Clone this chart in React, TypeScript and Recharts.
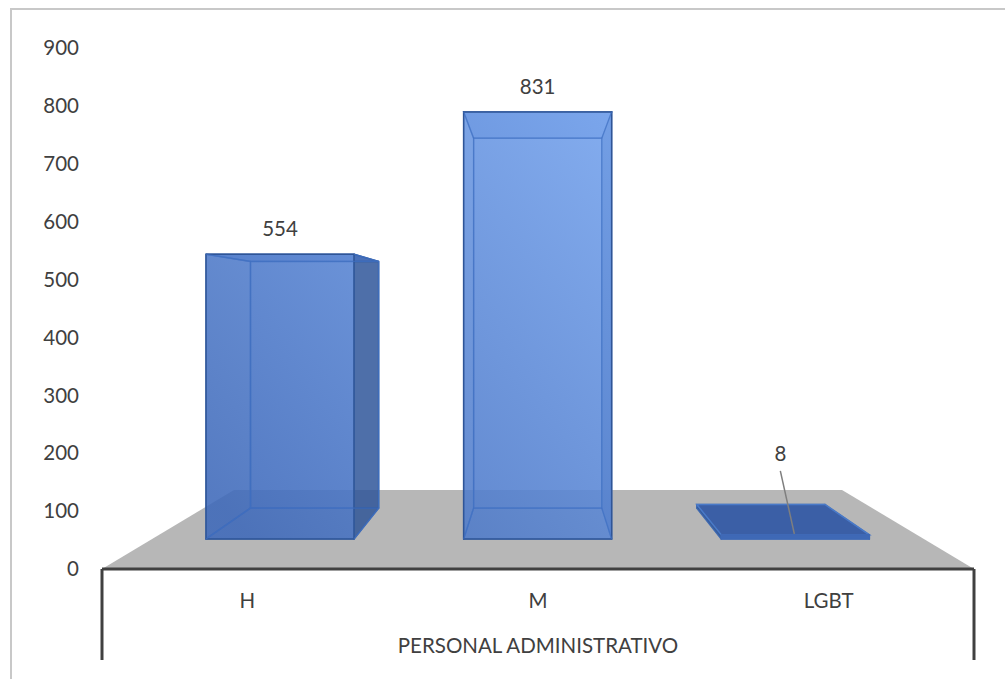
import { BarChart, Bar, XAxis, YAxis, LabelList } from 'recharts'

const CATEGORIES = ['H', 'M', 'LGBT']
const VALUES = [554, 831, 8]
const GROUP = 'PERSONAL ADMINISTRATIVO'
const Y_TICKS = [0, 100, 200, 300, 400, 500, 600, 700, 800, 900]

const chartData = CATEGORIES.map((cat, i) => ({ cat, value: VALUES[i], group: GROUP }))

const W = 1005
const H = 679
const PLOT = { left: 102, right: 974, top: 48, bottom: 569 }
// perspective of the 3D floor and boxes
const VP = { x: 538, y: 308 }
const DEPTH = 0.134
const FLOOR_BACK = 490
const TEXT = '#404040'
const AXIS = '#404040'
const FONT = 'Lato, sans-serif'

const toBack = (x: number, y: number) => [x + (VP.x - x) * DEPTH, y + (VP.y - y) * DEPTH]
const pts = (list: number[][]) => list.map(p => p.join(',')).join(' ')

function Floor() {
  const k = (PLOT.bottom - FLOOR_BACK) / (PLOT.bottom - VP.y)
  const backL = PLOT.left + (VP.x - PLOT.left) * k
  const backR = PLOT.right + (VP.x - PLOT.right) * k
  return (
    <polygon
      points={pts([[PLOT.left, PLOT.bottom], [PLOT.right, PLOT.bottom], [backR, FLOOR_BACK], [backL, FLOOR_BACK]])}
      fill="#b7b7b7"
    />
  )
}

function BoxBar(props: any) {
  const { x, y, width, height } = props
  const x2 = x + width
  const y2 = y + height
  const fl = [x, y]; const fr = [x2, y]; const br = [x2, y2]; const bl = [x, y2]
  const bfl = toBack(x, y); const bfr = toBack(x2, y); const bbr = toBack(x2, y2); const bbl = toBack(x, y2)
  const edge = { stroke: '#3a66b0', strokeWidth: 1.5, strokeLinejoin: 'round' as const }
  // a nearly empty box reads as a flat dark plate
  const flat = height < 10
  return (
    <g>
      <polygon points={pts([bfl, bfr, bbr, bbl])} fill="#4472c4" fillOpacity={0.3} {...edge} strokeOpacity={0.7} />
      <polygon points={pts([bl, br, bbr, bbl])} fill="#2f5597" fillOpacity={0.2} {...edge} strokeOpacity={0.7} />
      <polygon points={pts([fl, bfl, bbl, bl])} fill="#2f5597" fillOpacity={flat ? 0.9 : 0.2} {...edge} strokeOpacity={0.7} />
      <polygon points={pts([fr, bfr, bbr, br])} fill="#2f5597" fillOpacity={0.8} {...edge} strokeOpacity={0.7} />
      <polygon
        points={pts([fl, fr, bfr, bfl])}
        fill={flat ? '#3b5fa6' : '#3f6cc0'}
        fillOpacity={flat ? 1 : 0.6}
        stroke={flat ? '#4a7ac8' : '#3a66b0'}
        strokeWidth={1.5}
      />
      <polygon
        points={pts([fl, fr, br, bl])}
        fill={flat ? '#3f69b6' : 'url(#barFace)'}
        fillOpacity={flat ? 1 : 0.85}
        stroke={flat ? '#3f69b6' : '#2f5597'}
        strokeWidth={1.5}
      />
      {!flat && (
        <g fill="none" stroke="#3f6fc0" strokeWidth={1.2} strokeOpacity={0.7}>
          <polygon points={pts([bfl, bfr, bbr, bbl])} />
          <polyline points={pts([bl, bbl])} />
          <polyline points={pts([br, bbr])} />
          <polyline points={pts([fl, bfl])} />
          <polyline points={pts([fr, bfr])} />
        </g>
      )}
    </g>
  )
}

function ValueLabel(props: any) {
  const { x, y, width, value } = props
  const cx = x + width / 2
  // the tiny bar gets its label pulled up with a leader line
  if (value < 50) {
    return (
      <g>
        <line x1={cx - 15} y1={y - 64} x2={cx - 1} y2={y - 1} stroke="#7f7f7f" strokeWidth={1.5} />
        <text x={cx - 15} y={y - 74} textAnchor="middle" fontFamily={FONT} fontSize={20.5} fill={TEXT}>{value}</text>
      </g>
    )
  }
  return <text x={cx} y={y - 18} textAnchor="middle" fontFamily={FONT} fontSize={20.5} fill={TEXT}>{value}</text>
}

function GroupTick(props: any) {
  const { x, y, payload } = props
  return (
    <g>
      <line x1={PLOT.left} y1={PLOT.bottom} x2={PLOT.left} y2={660} stroke={AXIS} strokeWidth={3} />
      <line x1={PLOT.right} y1={PLOT.bottom} x2={PLOT.right} y2={660} stroke={AXIS} strokeWidth={3} />
      <text x={x} y={y + 26} textAnchor="middle" fontFamily={FONT} fontSize={20.5} fill={TEXT}>{payload.value}</text>
    </g>
  )
}

export default function App() {
  return (
    <div style={{ position: 'absolute', left: 0, top: 0, width: W, height: H, background: '#fff', overflow: 'hidden' }}>
      <div style={{ position: 'absolute', left: 10, top: 8, width: 995, height: 671, borderTop: '2px solid #c8c8c8', borderLeft: '2px solid #c8c8c8', boxSizing: 'border-box' }} />
      <BarChart
        width={W}
        height={H}
        data={chartData}
        margin={{ top: PLOT.top, right: W - PLOT.right, left: 0, bottom: 19 }}
        style={{ position: 'absolute', left: 0, top: 0 }}
      >
        <defs>
          <linearGradient id="barFace" gradientUnits="userSpaceOnUse" x1={640} y1={100} x2={200} y2={480}>
            <stop offset="0" stopColor="#7ba9f2" />
            <stop offset="1" stopColor="#3f6abb" />
          </linearGradient>
        </defs>
        <Floor />
        <YAxis
          yAxisId="left"
          width={PLOT.left}
          domain={[0, 900]}
          ticks={Y_TICKS}
          axisLine={false}
          tickLine={false}
          tickMargin={17}
          tick={{ fontFamily: FONT, fontSize: 20.5, fill: TEXT }}
        />
        {/* bars sit on the floor so they get their own hidden scales */}
        <YAxis yAxisId="bars" hide width={0} domain={[-58.4, 955.3]} allowDataOverflow />
        <XAxis
          xAxisId="cat"
          dataKey="cat"
          height={50}
          tickLine={false}
          tickMargin={18}
          axisLine={{ stroke: AXIS, strokeWidth: 3 }}
          tick={{ fontFamily: FONT, fontSize: 20.5, fill: TEXT }}
        />
        <XAxis
          xAxisId="group"
          dataKey="group"
          height={41}
          allowDuplicatedCategory={false}
          axisLine={false}
          tickLine={false}
          tick={<GroupTick />}
        />
        <XAxis xAxisId="bars" dataKey="cat" hide height={0} padding={{ left: 49, right: 50 }} />
        {/* invisible series, keeps the visible value axis alive */}
        <Bar xAxisId="cat" yAxisId="left" dataKey="value" fill="none" legendType="none" isAnimationActive={false} />
        <Bar
          xAxisId="bars"
          yAxisId="bars"
          dataKey="value"
          barSize={148}
          isAnimationActive={false}
          shape={<BoxBar />}
        >
          <LabelList dataKey="value" content={<ValueLabel />} />
        </Bar>
      </BarChart>
    </div>
  )
}
